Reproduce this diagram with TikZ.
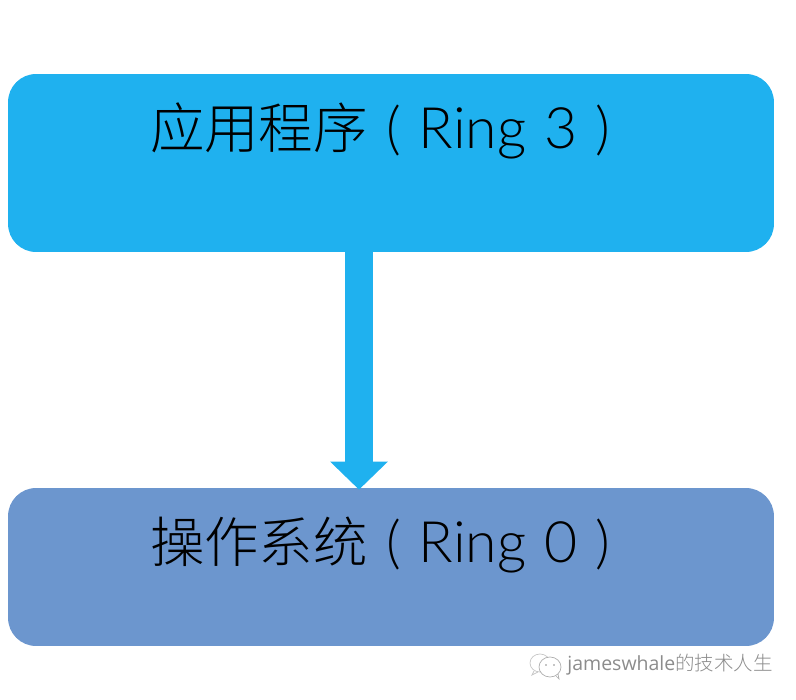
\documentclass[tikz,border=0pt]{standalone}
\usepackage{fontspec}
\setmainfont{Noto Sans CJK SC Light}
\newfontfamily\latinfont{Lato Light}
\newfontfamily\markfont{Open Sans}
\usetikzlibrary{arrows.meta}
\definecolor{ringblue}{HTML}{1FB1EF}
\definecolor{ringsteel}{HTML}{6C96CE}
\definecolor{markgray}{HTML}{8C8C8C}
\tikzset{
  ringbox/.style={rounded corners=0.56cm, minimum width=15.32cm, inner xsep=2.84cm, inner ysep=0pt,
    text width=9.64cm, align=left, font=\fontsize{31}{34}\selectfont, text=black},
  ringarrow/.style={draw=ringblue, line width=0.56cm, -{Triangle[width=1.12cm,length=0.56cm]}},
}
\newcommand{\ringtext}[1]{#1{\latinfont\fontsize{32.5}{36}\selectfont\ ( Ring \ringnum\ )}}
\begin{document}
\begin{tikzpicture}[x=0.02cm,y=-0.02cm]
\useasboundingbox (0,0) rectangle (796,700);

% Boxes
\def\ringnum{3}
\node[ringbox, fill=ringblue, text height=1.48cm, text depth=2.08cm] (app) at (391,163) {\ringtext{应用程序}};
\def\ringnum{0}
\node[ringbox, fill=ringsteel, text height=1.48cm, text depth=1.68cm] (os) at (391,567) {\ringtext{操作系统}};

% Arrow
\draw[ringarrow] ([xshift=-0.64cm]app.south) -- ([xshift=-0.64cm,yshift=-0.04cm]os.north);

% Watermark
\draw[markgray!50, fill=white, line width=0.4pt] (540,663) ellipse (10 and 9);
\draw[markgray!50, line width=0.4pt] (534,671) -- (532,675) -- (538,672);
\draw[markgray!70, fill=white, line width=0.4pt] (550,667) ellipse (11 and 10);
\draw[markgray!70, line width=0.4pt] (556,676) -- (559,679) -- (558,674);
\fill[markgray] (546,665) circle (0.8) (554,665) circle (0.8);
\node[anchor=west, inner sep=0pt, text=markgray, font=\fontsize{11.1}{12}\selectfont] (mark) at (567,665) {{\markfont jameswhale}的技术人生};
\end{tikzpicture}
\end{document}
